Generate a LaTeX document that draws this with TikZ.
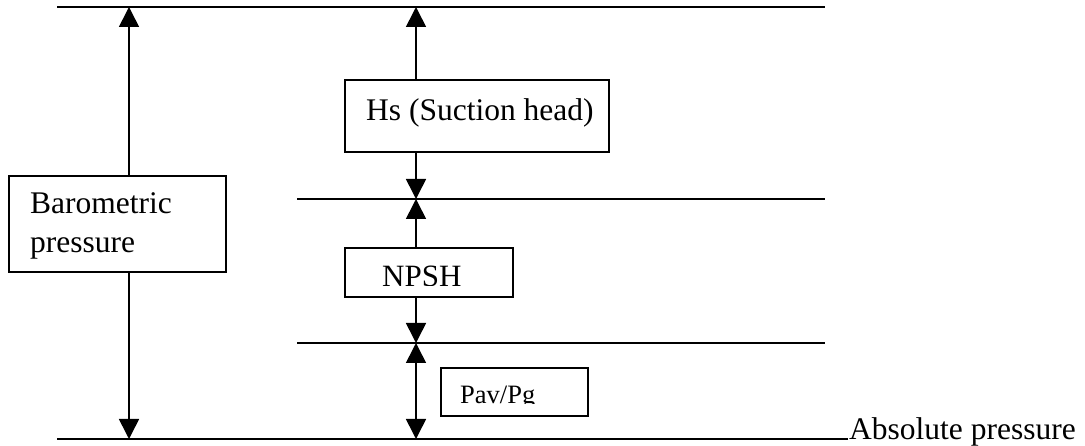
\documentclass[tikz,border=0pt]{standalone}
\usepackage{fontspec}
\setmainfont{Liberation Serif}
\usetikzlibrary{arrows.meta}
\begin{document}
\begin{tikzpicture}[x=1pt,y=-1pt,
  ln/.style={line width=1.6pt},
  arr/.style={ln,-{Triangle[width=20pt,length=20pt]}},
  dbl/.style={ln,{Triangle[width=20pt,length=20pt]}-{Triangle[width=20pt,length=20pt]}},
  box/.style={draw,line width=1.6pt,rectangle,inner sep=0pt,anchor=north west},
  txt/.style={anchor=base west,inner sep=0pt,font=\fontsize{31.5}{38}\selectfont},
  stxt/.style={anchor=base west,inner sep=0pt,font=\fontsize{31}{36}\selectfont},
  xtxt/.style={anchor=base west,inner sep=0pt,font=\fontsize{26.5}{30}\selectfont}]
\useasboundingbox (0,0) rectangle (1085,446);
% levels
\coordinate (t1) at (57,7);   \coordinate (t2) at (825,7);
\coordinate (m1) at (297,199); \coordinate (m2) at (825,199);
\coordinate (n1) at (297,343); \coordinate (n2) at (825,343);
\coordinate (b1) at (57,439);  \coordinate (b2) at (848,439);
\coordinate (lx) at (129,0);
\coordinate (mx) at (416,0);
\draw[ln] (t1) -- (t2);
\draw[ln] (m1) -- (m2);
\draw[ln] (n1) -- (n2);
\draw[ln] (b1) -- (b2);
\node[txt] (abs) at (849,439) {Absolute pressure};
% boxes
\node[box,minimum width=217pt,minimum height=96pt] (baro) at (8,175) {};
\node[txt] (baroA) at (30,214) {Barometric};
\node[txt] (baroB) at (30,253) {pressure};
\node[box,minimum width=264pt,minimum height=72pt] (hs) at (344,79) {};
\node[txt] (hsT) at (366,121) {Hs (Suction head)};
\node[box,minimum width=168pt,minimum height=49pt] (npsh) at (344,247) {};
\begin{scope}
\clip (344,247) rectangle (512,286);
\node[stxt] (npshT) at (382,287) {NPSH};
\end{scope}
\node[box,minimum width=147pt,minimum height=48pt] (pav) at (440,367) {};
\begin{scope}
\clip (440,367) rectangle (587,404);
\node[xtxt] (pavT) at (460,403) {Pav/Pg};
\end{scope}
% arrows left
\draw[arr] (baro.north -| lx) -- (t1 -| lx);
\draw[arr] (baro.south -| lx) -- (b1 -| lx);
% arrows middle
\draw[arr] (hs.north -| mx) -- (t1 -| mx);
\draw[arr] (hs.south -| mx) -- (m1 -| mx);
\draw[arr] (npsh.north -| mx) -- (m1 -| mx);
\draw[arr] (npsh.south -| mx) -- (n1 -| mx);
\draw[dbl] (n1 -| mx) -- (b1 -| mx);
\end{tikzpicture}
\end{document}
